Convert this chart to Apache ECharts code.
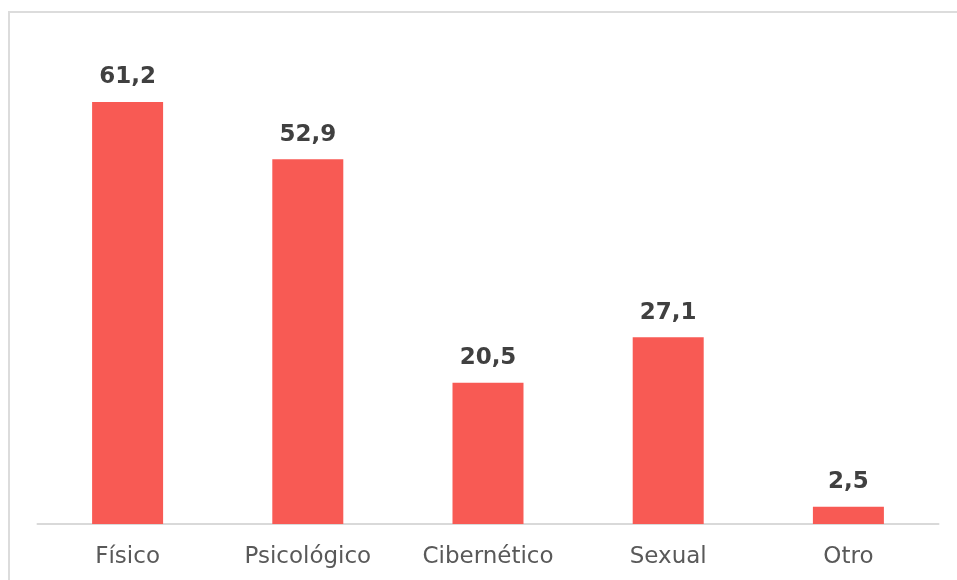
<!DOCTYPE html>
<html>
<head>
<meta charset="utf-8">
<script src="https://cdn.jsdelivr.net/npm/echarts@6/dist/echarts.min.js"></script>
<style>
html,body{margin:0;padding:0;background:#fff;}
#frame{position:absolute;left:8px;top:11px;width:1000px;height:600px;border-left:2px solid #DCDCDC;border-top:2px solid #DCDCDC;box-sizing:border-box;}
#chart{position:absolute;left:0;top:0;width:957px;height:580px;}
</style>
</head>
<body>
<div id="frame"></div>
<div id="chart"></div>
<script>
const categories = ['Físico', 'Psicológico', 'Cibernético', 'Sexual', 'Otro'];
const values = [61.2, 52.9, 20.5, 27.1, 2.5];

const chart = echarts.init(document.getElementById('chart'), null, {renderer: 'canvas'});
chart.setOption({
  animation: false,
  grid: {left: 37.5, right: 18.5, top: 41.3, bottom: 56, containLabel: false},
  xAxis: {
    type: 'category',
    data: categories,
    axisLine: {lineStyle: {color: '#D9D9D9', width: 2}},
    axisTick: {show: false},
    axisLabel: {color: '#595959', fontSize: 23, fontFamily: 'DejaVu Sans', margin: 22}
  },
  yAxis: {
    type: 'value', min: 0, max: 70,
    show: false,
    splitLine: {show: false}
  },
  series: [{
    type: 'bar',
    data: values,
    barWidth: '39.4%',
    itemStyle: {color: '#F85A54'},
    label: {
      show: true, position: 'top', distance: 13,
      color: '#404040', fontSize: 23, fontWeight: 'bold', fontFamily: 'DejaVu Sans',
      formatter: p => p.value.toFixed(1).replace('.', ',')
    }
  }]
});
</script>
</body>
</html>
